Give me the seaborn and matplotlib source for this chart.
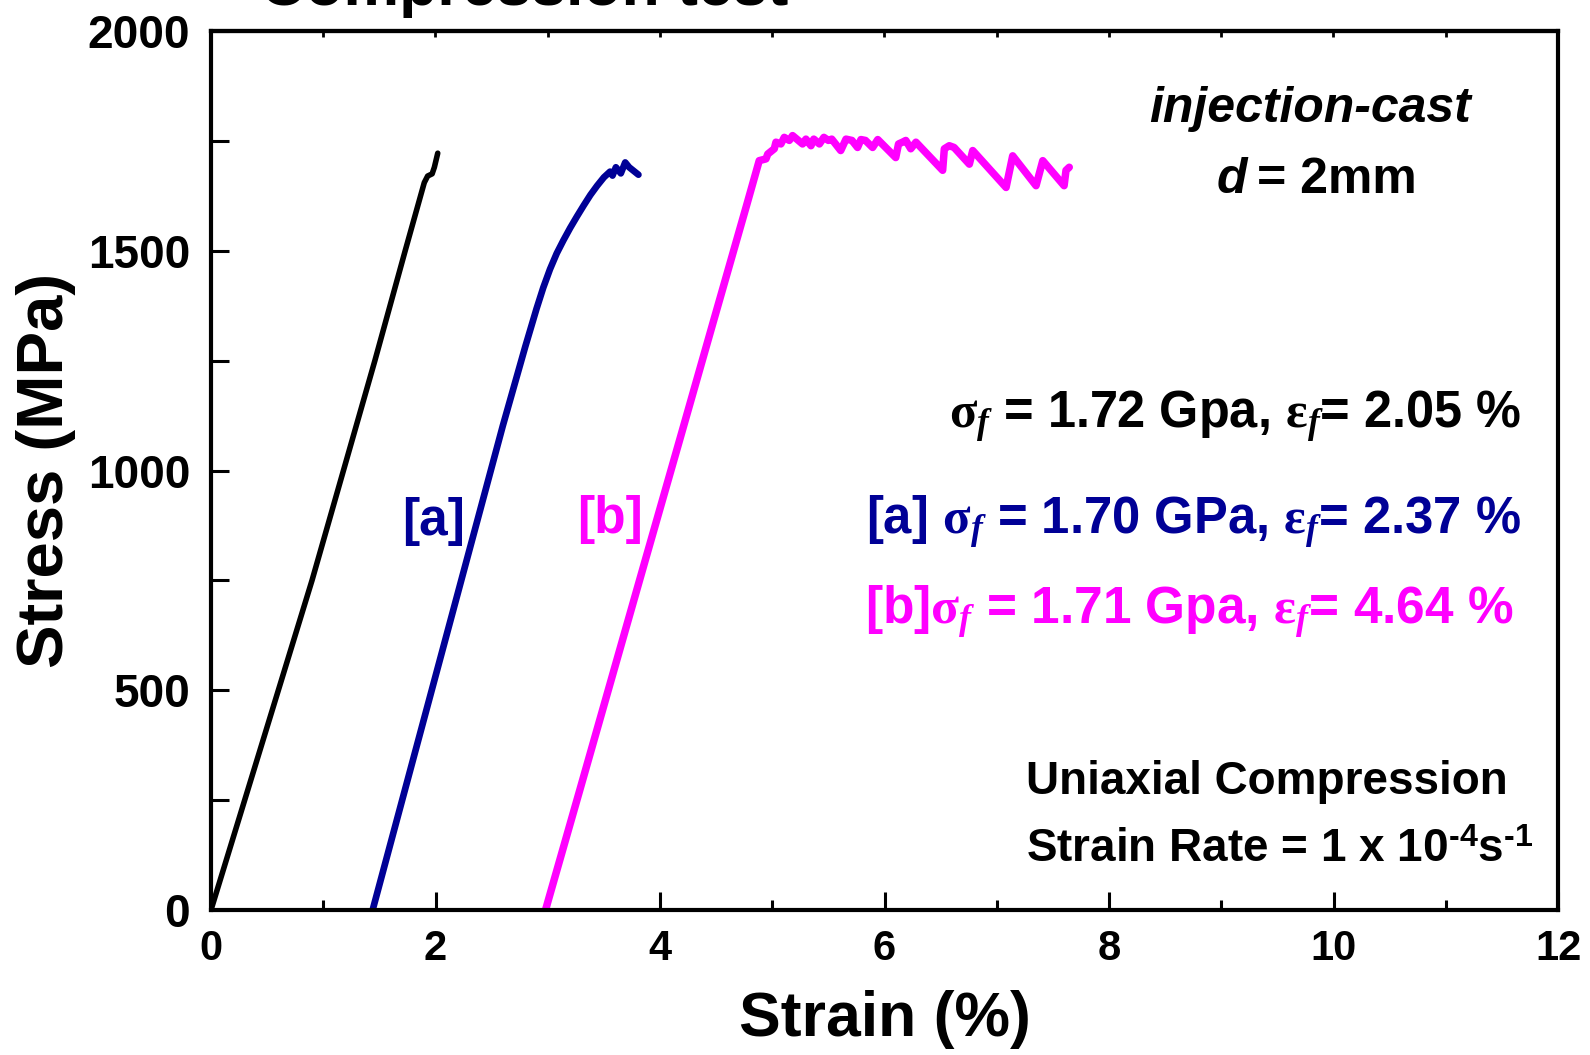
import matplotlib
matplotlib.use("Agg")
import matplotlib.pyplot as plt
from matplotlib.ticker import MultipleLocator
import numpy as np
import pandas as pd
import seaborn as sns

# ---------------- data ----------------
black_strain = [0.00, 0.30, 0.60, 0.90, 1.18, 1.46, 1.73, 1.90, 1.93, 1.97, 1.99, 2.02]
black_stress = [0, 250, 500, 750, 1000, 1250, 1500, 1655, 1670, 1675, 1690, 1722]

a_strain = [1.44, 1.70, 1.96, 2.18, 2.36, 2.60, 2.70, 2.80, 2.90, 2.96, 3.02, 3.08,
            3.14, 3.20, 3.26, 3.32, 3.38, 3.44, 3.50, 3.555, 3.577, 3.607, 3.651,
            3.69, 3.725, 3.808]
a_stress = [0, 247, 494, 703, 874, 1102, 1192, 1282, 1368, 1416, 1458, 1494,
            1524, 1552, 1578, 1603, 1627, 1648, 1667, 1680, 1671, 1690, 1676,
            1701, 1690, 1673]

b_strain = [2.98, 3.28, 3.58, 3.87, 4.17, 4.47, 4.77, 4.884, 4.944, 4.96, 5.018,
            5.033, 5.077, 5.107, 5.152, 5.181, 5.27, 5.30, 5.345, 5.37, 5.42, 5.46,
            5.50, 5.53, 5.61, 5.657, 5.71, 5.76, 5.79, 5.83, 5.894, 5.94, 6.10, 6.125,
            6.16, 6.19, 6.234, 6.28, 6.518, 6.533, 6.577, 6.62, 6.756, 6.786, 7.083,
            7.142, 7.35, 7.41, 7.60, 7.617, 7.646]
b_stress = [0, 268, 537, 797, 1065, 1334, 1602, 1705, 1709, 1720, 1732,
            1747, 1743, 1758, 1751, 1762, 1743, 1754, 1739, 1754, 1743, 1758,
            1751, 1754, 1728, 1754, 1751, 1735, 1753, 1751, 1735, 1753, 1712, 1743,
            1747, 1751, 1732, 1747, 1683, 1732, 1739, 1735, 1697, 1728, 1644,
            1716, 1648, 1705, 1648, 1683, 1690]

x_ticks = [0, 2, 4, 6, 8, 10, 12]
y_ticks = [0, 500, 1000, 1500, 2000]

NAVY = "#000096"
MAGENTA = "#FF00FF"

# ---------------- style ----------------
sns.set_theme(style="white")
plt.rcParams["font.family"] = ["Liberation Sans", "DejaVu Sans"]
plt.rcParams["font.weight"] = "bold"
plt.rcParams["text.color"] = "black"
plt.rcParams["axes.labelcolor"] = "black"
plt.rcParams["xtick.color"] = "black"
plt.rcParams["ytick.color"] = "black"
plt.rcParams["mathtext.fontset"] = "custom"
plt.rcParams["mathtext.rm"] = "Liberation Serif"
plt.rcParams["mathtext.it"] = "Liberation Serif:italic"
plt.rcParams["mathtext.bf"] = "Liberation Sans:bold"

W, H = 1590, 1055
fig = plt.figure(figsize=(W / 100, H / 100), dpi=100)
L, R, T, B = 211, 1558, 31, 910
ax = fig.add_axes([L / W, 1 - B / H, (R - L) / W, (B - T) / H])

df_k = pd.DataFrame({"strain": black_strain, "stress": black_stress})
df_a = pd.DataFrame({"strain": a_strain, "stress": a_stress})
df_b = pd.DataFrame({"strain": b_strain, "stress": b_stress})

common = dict(x="strain", y="stress", sort=False, estimator=None, ax=ax,
              solid_capstyle="round", solid_joinstyle="round")
sns.lineplot(data=df_k, color="black", linewidth=4.0, **common)
sns.lineplot(data=df_a, color=NAVY, linewidth=4.8, **common)
sns.lineplot(data=df_b, color=MAGENTA, linewidth=5.4, **common)

ax.set_xlim(0, 12)
ax.set_ylim(0, 2000)
ax.set_xticks(x_ticks)
ax.set_yticks(y_ticks)
ax.xaxis.set_minor_locator(MultipleLocator(1))
ax.yaxis.set_minor_locator(MultipleLocator(250))

for s in ax.spines.values():
    s.set_linewidth(3.0)
    s.set_color("black")

ax.tick_params(which="both", direction="in", color="black", width=2.2,
               bottom=True, left=True, top=False, right=False)
ax.tick_params(axis="x", which="major", length=13, labelsize=30, pad=14)
ax.tick_params(axis="x", which="minor", length=7)
ax.tick_params(axis="y", which="both", length=13, labelsize=33, pad=15)
for lab in ax.get_xticklabels() + ax.get_yticklabels():
    lab.set_fontweight("bold")
    lab.set_color("black")

sec = ax.secondary_xaxis("top")
sec.set_xticks(x_ticks)
sec.xaxis.set_minor_locator(MultipleLocator(1))
sec.tick_params(which="both", direction="in", length=4, width=2.0, labeltop=False,
                color="black")
sec.spines["top"].set_linewidth(3.0)

ax.set_xlabel("Strain (%)", fontsize=45, fontweight="bold", va="baseline", color="black")
ax.xaxis.set_label_coords(0.5, (B - 1036) / (B - T))
ax.set_ylabel("Stress (MPa)", fontsize=47, fontweight="bold", va="center", color="black")
ax.yaxis.set_label_coords((46 - L) / (R - L), 0.5)

def fx(x):
    return x / W

def fy(y):
    return 1 - y / H

# title (cut off at the top in the reference)
fig.text(fx(524), fy(5), "Compression test", fontsize=45, fontweight="bold",
         ha="center", va="baseline")

fig.text(fx(1310), fy(122), "injection-cast", fontsize=36, fontweight="bold",
         style="italic", ha="center", va="baseline")
fig.text(fx(1217), fy(193), "d", fontsize=36, fontweight="bold",
         style="italic", ha="left", va="baseline")
fig.text(fx(1257), fy(193), "= 2mm", fontsize=36, fontweight="bold",
         ha="left", va="baseline")

fig.text(fx(1521), fy(428), r"$\mathrm{σ}_{f}$ = 1.72 Gpa, $\mathrm{ε}_{f}$= 2.05 %",
         fontsize=36.4, fontweight="bold", color="black", ha="right", va="baseline")
fig.text(fx(1521), fy(534), r"[a] $\mathrm{σ}_{f}$ = 1.70 GPa, $\mathrm{ε}_{f}$= 2.37 %",
         fontsize=36.5, fontweight="bold", color=NAVY, ha="right", va="baseline")
fig.text(fx(1514), fy(624), r"[b]$\mathrm{σ}_{f}$ = 1.71 Gpa, $\mathrm{ε}_{f}$= 4.64 %",
         fontsize=37, fontweight="bold", color=MAGENTA, ha="right", va="baseline")

fig.text(fx(434), fy(522), "[a]", fontsize=37, fontweight="bold", color=NAVY,
         ha="center", va="center")
fig.text(fx(610), fy(520), "[b]", fontsize=37, fontweight="bold", color=MAGENTA,
         ha="center", va="center")

fig.text(fx(1026), fy(794), "Uniaxial Compression", fontsize=33, fontweight="bold",
         ha="left", va="baseline")
fig.text(fx(1026), fy(862), "Strain Rate = 1 x 10$^{\\mathbf{\u2010}\\mathbf{4}}$s$^{\\mathbf{\u2010}\\mathbf{1}}$",
         fontsize=33, fontweight="bold", ha="left", va="baseline")

fig.savefig("out.png", dpi=100, facecolor="white")
